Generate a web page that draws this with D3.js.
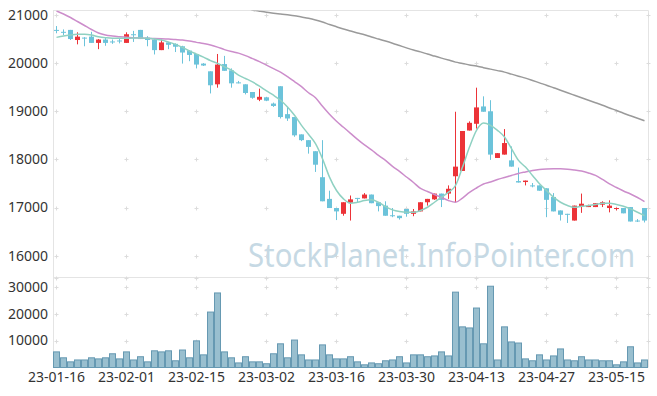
<!DOCTYPE html>
<html>
<head>
<meta charset="utf-8">
<script src="https://cdn.jsdelivr.net/npm/d3@7/dist/d3.min.js"></script>
<style>
  html, body { margin: 0; padding: 0; background: #fff; }
  svg { display: block; font-family: "Noto Sans", "Open Sans", sans-serif; }
</style>
</head>
<body>
<div id="chart"></div>
<script>
// trading days shown on the chart
const dates = [
  "23-01-16","23-01-17","23-01-18","23-01-19","23-01-20","23-01-25","23-01-26","23-01-27","23-01-30","23-01-31",
  "23-02-01","23-02-02","23-02-03","23-02-06","23-02-07","23-02-08","23-02-09","23-02-10","23-02-13","23-02-14",
  "23-02-15","23-02-16","23-02-17","23-02-20","23-02-21","23-02-22","23-02-23","23-02-24","23-02-27","23-02-28",
  "23-03-02","23-03-03","23-03-06","23-03-07","23-03-08","23-03-09","23-03-10","23-03-13","23-03-14","23-03-15",
  "23-03-16","23-03-17","23-03-20","23-03-21","23-03-22","23-03-23","23-03-24","23-03-27","23-03-28","23-03-29",
  "23-03-30","23-03-31","23-04-03","23-04-04","23-04-05","23-04-06","23-04-07","23-04-10","23-04-11","23-04-12",
  "23-04-13","23-04-14","23-04-17","23-04-18","23-04-19","23-04-20","23-04-21","23-04-24","23-04-25","23-04-26",
  "23-04-27","23-04-28","23-05-02","23-05-03","23-05-04","23-05-08","23-05-09","23-05-10","23-05-11","23-05-12",
  "23-05-15","23-05-16","23-05-17","23-05-18","23-05-19"
];

const opens = [
  20690,20650,20690,20480,20530,20550,20420,20490,20450,20470,
  20420,20600,20690,20530,20490,20270,20430,20400,20350,20260,
  20190,19990,19830,19560,19980,19850,19600,19560,19400,19240,
  19290,19160,19520,18940,18880,18520,18400,18170,17630,17180,
  16990,16870,17100,17200,17190,17270,17110,17040,16840,16830,
  16970,16870,16920,17110,17170,17290,17290,17650,17760,18600,
  18740,19100,19000,18030,18100,17980,17550,17530,17460,17460,
  17400,17220,16940,16870,16730,17030,17010,17010,17060,16990,
  16970,16990,17010,16730,16990
];
const highs = [
  20770,20700,20690,20640,20540,20650,20500,20530,20490,20520,
  20640,20670,20690,20560,20500,20490,20440,20410,20360,20270,
  20190,20000,19830,20190,20150,19890,19630,19560,19400,19470,
  19300,19180,19520,19090,18880,18520,18400,18170,18400,17350,
  16990,17110,17250,17200,17300,17270,17110,17130,16990,16830,
  16970,16970,17110,17180,17290,17290,17460,18990,18590,18790,
  19490,19310,19230,18130,18630,18270,17830,17560,17510,17460,
  17400,17300,16940,16870,17040,17290,17060,17090,17130,17150,
  17000,16990,17010,16760,16990
];
const lows = [
  20620,20580,20480,20390,20350,20420,20290,20360,20400,20410,
  20420,20440,20500,20350,20180,20270,20290,20230,19990,20040,
  19890,19940,19370,19490,19840,19490,19580,19350,19260,19210,
  19210,19090,18850,18800,18470,18380,18120,17740,17130,16990,
  16740,16830,16730,17110,17190,17090,16920,16830,16800,16750,
  16810,16820,16920,17040,17160,17010,17180,17110,17760,18600,
  18640,18990,17990,18030,18100,17850,17520,17460,17420,17350,
  16800,16920,16730,16680,16730,16890,17010,17010,17010,16900,
  16940,16880,16710,16700,16690
];
const closes = [
  20680,20640,20500,20550,20520,20420,20490,20420,20440,20460,
  20600,20590,20500,20480,20270,20430,20380,20340,20220,20170,
  19970,19950,19540,19970,19840,19580,19580,19380,19280,19300,
  19220,19110,18880,18850,18500,18400,18260,17890,17130,16990,
  16920,17110,17170,17190,17270,17090,17030,16830,16830,16780,
  16870,16920,17110,17180,17290,17160,17390,17850,18590,18760,
  19080,18990,18100,18130,18340,17850,17520,17560,17450,17350,
  17160,16920,16850,16860,17040,17080,17040,17090,17110,17040,
  16990,16880,16710,16720,16730
];
const volumes = [
  5800,3600,2100,2800,2800,3600,3200,3600,5100,3200,
  5800,2800,4000,2100,6200,5800,6200,2500,6500,3600,
  9900,4700,20600,27700,5800,3600,1700,4000,2100,2100,
  1400,5100,8800,3600,10200,4700,2800,2800,8400,4700,
  3200,3200,4000,2100,1000,1700,1400,2500,2800,4000,
  1700,4700,4700,4000,4300,5800,4300,28000,15100,14700,
  22100,8800,30200,2800,15100,9500,9100,3200,2500,4700,
  2800,4300,6900,2800,2500,4000,2800,2800,2500,2500,
  1000,2100,7700,1700,2800
];

// moving averages
const ma5 = [
  20535,20563,20583,20598,20598,20583,20548,20527,20515,20515,
  20515,20521,20521,20515,20500,20479,20438,20390,20327,20250,
  20188,20125,20052,19994,19923,19854,19750,19681,19610,19521,
  19423,19333,19229,19090,18917,18708,18521,18327,18015,17632,
  17354,17181,17090,17110,17146,17160,17110,17021,16952,16917,
  16902,16902,16938,17006,17110,17215,17319,17458,17840,18256,
  18604,18756,18708,18604,18465,18223,17979,17840,17667,17494,
  17354,17215,17110,17042,17006,17027,17042,17063,17090,17090,
  17063,17027,16973,16902,16833
];
const ma20 = [
  21083,21021,20948,20865,20781,20698,20625,20583,20563,20548,
  20535,20527,20521,20515,20510,20506,20500,20490,20479,20458,
  20431,20406,20375,20333,20281,20240,20208,20156,20094,20031,
  19958,19885,19813,19719,19615,19510,19385,19281,19104,18938,
  18792,18667,18542,18417,18302,18198,18083,17979,17854,17750,
  17635,17521,17396,17333,17271,17208,17146,17110,17198,17313,
  17406,17490,17531,17583,17625,17667,17708,17740,17771,17792,
  17802,17806,17806,17798,17781,17760,17719,17667,17583,17490,
  17417,17344,17281,17208,17125
];
const ma120 = [
  null,null,null,null,null,null,null,null,null,null,
  null,null,null,null,null,null,null,null,null,null,
  null,null,null,null,null,null,21229,21167,21104,21079,
  21056,21038,21021,21004,20985,20958,20931,20896,20854,20802,
  20756,20708,20667,20625,20588,20542,20500,20458,20413,20365,
  20317,20271,20233,20188,20146,20104,20063,20021,19994,19963,
  19938,19906,19875,19844,19813,19771,19729,19688,19640,19590,
  19542,19490,19438,19385,19333,19281,19229,19177,19125,19069,
  19015,18958,18906,18854,18802
];

const priceTicks = [16000, 17000, 18000, 19000, 20000, 21000];
const volumeTicks = [10000, 20000, 30000];
const xTickLabels = ["23-01-16","23-02-01","23-02-15","23-03-02","23-03-16","23-03-30","23-04-13","23-04-27","23-05-15"];

const W = 657, H = 396;
const left = 53, right = 648;
const priceTop = 10.5, priceBottom = 277.5;
const volTop = 277.5, volBottom = 367.5;

const UP = "#ec3338", DOWN = "#6cc3da";

const svg = d3.select("#chart").append("svg")
    .attr("width", W)
    .attr("height", H);

// scales
const x = d3.scaleBand().domain(dates).range([left, right]).padding(0);
const cx = d => x(d) + x.bandwidth() / 2;
const yPrice = d3.scaleLinear().domain([15547, 21093]).range([priceBottom, priceTop]);
const yVol = d3.scaleLinear().domain([0, 33440]).range([volBottom, volTop]);

// frame lines
const frame = svg.append("g").attr("stroke", "#e4e4e4").attr("stroke-width", 1);
frame.append("line").attr("x1", left).attr("x2", right + 0.5).attr("y1", priceTop).attr("y2", priceTop);
frame.append("line").attr("x1", left).attr("x2", right + 0.5).attr("y1", priceBottom).attr("y2", priceBottom);
frame.append("line").attr("x1", left + 0.5).attr("x2", left + 0.5).attr("y1", priceTop).attr("y2", volBottom);
frame.append("line").attr("x1", right + 0.5).attr("x2", right + 0.5).attr("y1", priceTop).attr("y2", volBottom);

// small "+" grid markers
const gridX = xTickLabels.map(cx).concat([right + 0.5]);
const gridY = priceTicks.map(yPrice).concat(volumeTicks.map(yVol), [priceBottom]);
const cross = svg.append("g").attr("stroke", "#dcdcdc").attr("stroke-width", 1);
gridX.forEach(gx => {
    gridY.forEach(gy => {
        const yy = Math.round(gy) + 0.5;
        cross.append("line").attr("x1", gx - 2).attr("x2", gx + 2).attr("y1", yy).attr("y2", yy);
        cross.append("line").attr("x1", gx).attr("x2", gx).attr("y1", yy - 2).attr("y2", yy + 2);
    });
});

// watermark
svg.append("text")
    .attr("x", 248)
    .attr("y", 267)
    .attr("font-size", 33)
    .attr("textLength", 387)
    .attr("lengthAdjust", "spacingAndGlyphs")
    .attr("fill", "#c6d9e4")
    .text("StockPlanet.InfoPointer.com");

// y axis labels
const labels = svg.append("g")
    .attr("font-size", 14)
    .attr("fill", "#333")
    .attr("text-anchor", "end");
priceTicks.forEach(t => {
    labels.append("text").attr("x", 48).attr("y", yPrice(t)).attr("dy", "0.35em").text(t);
});
volumeTicks.forEach(t => {
    labels.append("text").attr("x", 48).attr("y", yVol(t)).attr("dy", "0.35em").text(t);
});

// x axis labels
svg.append("g")
    .attr("font-size", 14)
    .attr("fill", "#333")
    .attr("text-anchor", "middle")
    .selectAll("text")
    .data(xTickLabels)
    .enter().append("text")
    .attr("x", d => cx(d))
    .attr("y", 382)
    .text(d => d);

// clip for the price panel
svg.append("clipPath").attr("id", "priceClip")
    .append("rect")
    .attr("x", left).attr("y", priceTop)
    .attr("width", right - left).attr("height", priceBottom - priceTop);

const plot = svg.append("g").attr("clip-path", "url(#priceClip)");

// candles
const candles = dates.map((d, i) => ({d, o: opens[i], h: highs[i], l: lows[i], c: closes[i]}));
const candle = plot.append("g").selectAll("g").data(candles).enter().append("g");

candle.append("line")
    .attr("x1", d => cx(d.d))
    .attr("x2", d => cx(d.d))
    .attr("y1", d => yPrice(d.h))
    .attr("y2", d => yPrice(d.l))
    .attr("stroke", d => d.c > d.o ? UP : DOWN)
    .attr("stroke-width", 1);

candle.append("rect")
    .attr("x", d => cx(d.d) - 2.5)
    .attr("width", 5)
    .attr("y", d => yPrice(Math.max(d.o, d.c)))
    .attr("height", d => Math.max(1, Math.abs(yPrice(d.o) - yPrice(d.c))))
    .attr("fill", d => d.c > d.o ? UP : DOWN);

// moving average lines
function maLine(values, color) {
    const line = d3.line()
        .defined(d => d != null)
        .x((d, i) => cx(dates[i]))
        .y(d => yPrice(d))
        .curve(d3.curveMonotoneX);
    plot.append("path")
        .datum(values)
        .attr("fill", "none")
        .attr("stroke", color)
        .attr("stroke-width", 1.5)
        .attr("d", line);
}
maLine(ma120, "#9a9a9a");
maLine(ma20, "#cc8dcb");
maLine(ma5, "#8fd1c2");

// volume bars
svg.append("g")
    .selectAll("rect")
    .data(volumes)
    .enter().append("rect")
    .attr("x", (d, i) => x(dates[i]) + 0.5)
    .attr("width", x.bandwidth() - 1)
    .attr("y", d => yVol(d))
    .attr("height", d => volBottom - yVol(d))
    .attr("fill", "#99bfcf")
    .attr("stroke", "#6699b2")
    .attr("stroke-width", 1);
</script>
</body>
</html>
